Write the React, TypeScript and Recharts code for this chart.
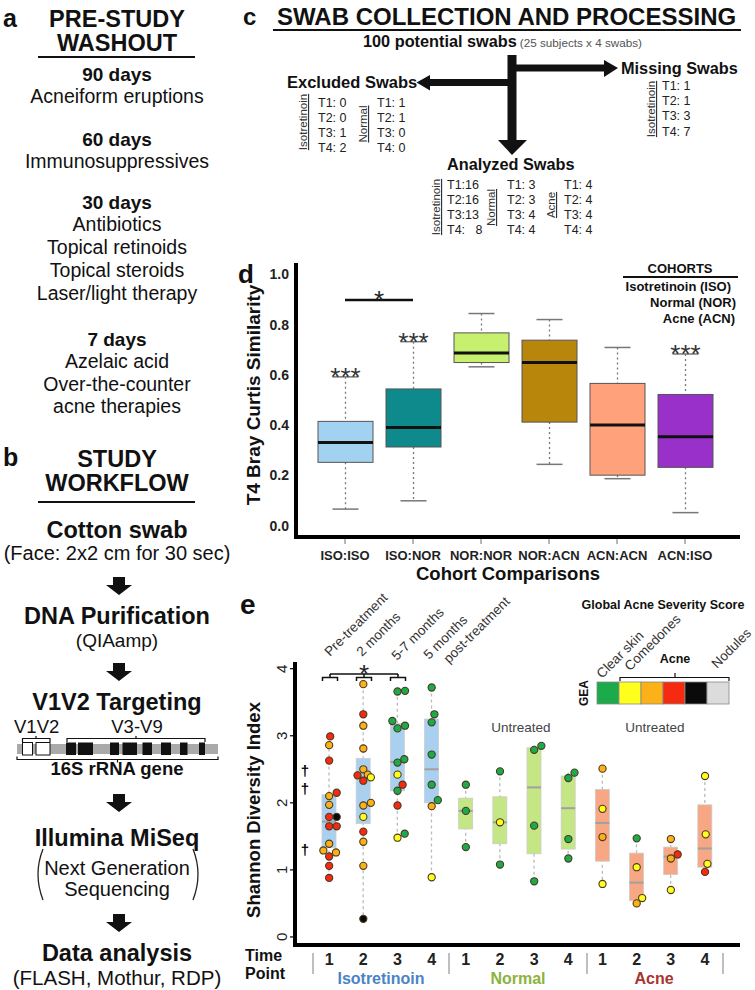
import React from 'react'
import { ComposedChart, Bar, Scatter, XAxis, YAxis, ReferenceLine } from 'recharts'

const FONT = '"Liberation Sans", Arial, Helvetica, sans-serif'

// panel c: swab counts per time point
const swabTimes = ['T1', 'T2', 'T3', 'T4']
const excludedIso = [0, 0, 1, 2]
const excludedNor = [1, 1, 0, 0]
const missingIso = [1, 1, 3, 7]
const analyzedIso = [16, 16, 13, 8]
const analyzedNor = [3, 3, 4, 4]
const analyzedAcn = [4, 4, 4, 4]

// panel d: T4 Bray Curtis similarity by cohort comparison
const cohortPairs = ['ISO:ISO', 'ISO:NOR', 'NOR:NOR', 'NOR:ACN', 'ACN:ACN', 'ACN:ISO']
const brayMin = [0.066, 0.099, 0.632, 0.244, 0.187, 0.052]
const brayQ1 = [0.252, 0.313, 0.649, 0.412, 0.201, 0.232]
const brayMedian = [0.331, 0.391, 0.687, 0.649, 0.401, 0.354]
const brayQ3 = [0.415, 0.544, 0.767, 0.738, 0.566, 0.522]
const brayMax = [0.592, 0.732, 0.844, 0.82, 0.709, 0.683]
const braySig = ['***', '***', '', '', '', '***']
const brayTicks = [0, 0.2, 0.4, 0.6, 0.8, 1.0]
const pairSigFrom = 'ISO:ISO'
const pairSigTo = 'ISO:NOR'
const pairSigLevel = 0.898
const pairColors = ['#a3d1f0', '#0e8a8c', '#c6f06e', '#b8860b', '#ffa27c', '#9a30ca']

// panel e: Shannon diversity per cohort and time point
const cohorts = ['Isotretinoin', 'Normal', 'Acne']
const timePoints = [1, 2, 3, 4]
const shannonTicks = [0, 1, 2, 3, 4]
const shannonMin = [0.88, 0.27, 1.48, 0.89, 1.34, 1.08, 0.83, 1.17, 0.79, 0.5, 0.7, 0.97]
const shannonQ1 = [1.33, 1.69, 2.18, 2.0, 1.61, 1.39, 1.24, 1.31, 1.13, 0.54, 0.93, 1.04]
const shannonMedian = [1.72, 2.38, 2.61, 2.5, 1.88, 1.71, 2.23, 1.92, 1.7, 0.81, 1.2, 1.32]
const shannonQ3 = [2.12, 2.66, 3.18, 3.25, 2.07, 2.09, 2.82, 2.4, 2.2, 1.25, 1.34, 1.97]
const shannonMax = [2.99, 3.77, 3.67, 3.72, 2.27, 2.47, 2.85, 2.45, 2.51, 1.47, 1.46, 2.4]

// swabs: [shannon, GEA score (0 clear .. 4 severe), jitter]
const isoT1 = [[2.99, 3, 0.03], [2.86, 2, 0], [2.63, 3, 0], [2.1, 2, 0], [2.15, 3, 0.22], [1.97, 2, 0], [1.79, 3, 0], [1.79, 4, 0.22], [1.65, 3, 0], [1.65, 3, 0.22], [1.39, 2, 0], [1.29, 2, -0.17], [1.26, 2, 0.2], [1.2, 3, 0], [1.06, 3, 0], [0.88, 3, 0]]
const isoT2 = [[3.77, 2, 0], [3.32, 3, 0], [3.15, 2, 0], [2.81, 2, 0], [2.5, 2, 0], [2.41, 3, -0.17], [2.42, 2, 0.13], [2.38, 1, 0.22], [2.33, 3, 0], [2.0, 2, 0.22], [1.96, 2, 0], [1.79, 1, 0], [1.57, 3, 0], [1.42, 2, 0], [1.06, 2, 0], [0.27, 4, 0]]
const isoT3 = [[3.66, 0, 0], [3.67, 0, 0.22], [3.22, 0, -0.15], [3.11, 0, 0], [3.15, 0, 0.22], [2.6, 0, 0], [2.65, 0, 0.2], [2.42, 1, 0], [2.27, 3, 0.15], [2.18, 0, 0], [1.96, 3, 0], [1.48, 1, 0], [1.54, 0, 0.21]]
const isoT4 = [[3.72, 0, 0], [3.32, 0, 0.08], [3.2, 0, 0], [2.72, 0, 0], [2.27, 0, 0], [2.04, 0, 0.18], [1.95, 2, 0], [0.89, 1, 0]]
const norT1 = [[2.27, 0, 0], [1.88, 0, 0], [1.34, 0, 0]]
const norT2 = [[2.47, 0, 0], [1.71, 1, 0], [1.08, 0, 0]]
const norT3 = [[2.79, 0, 0], [2.85, 0, 0.21], [1.66, 0, 0], [0.83, 0, 0]]
const norT4 = [[2.37, 0, 0], [2.45, 0, 0.18], [1.46, 0, 0], [1.17, 0, 0]]
const acnT1 = [[2.51, 2, 0], [1.91, 1, 0], [1.49, 2, 0], [0.79, 1, 0]]
const acnT2 = [[1.47, 0, 0], [1.04, 1, 0], [0.58, 1, 0.16], [0.5, 2, 0]]
const acnT3 = [[1.46, 2, 0], [1.17, 2, 0], [1.23, 3, 0.2], [0.7, 1, 0]]
const acnT4 = [[2.4, 1, 0], [1.53, 1, 0.02], [1.09, 1, 0.07], [0.97, 3, 0]]
const swabGroups = [isoT1, isoT2, isoT3, isoT4, norT1, norT2, norT3, norT4, acnT1, acnT2, acnT3, acnT4]

const geaColors = ['#1cab4b', '#ffff1e', '#fbb117', '#f52a10', '#0a0a0a', '#dcdcdc']
const cohortFill = ['#aad0f0', '#c4e684', '#f7a783']
const cohortText = ['#4a84c4', '#8db23f', '#a8342f']

// chart placement on the page
const D = { left: 240, top: 250, width: 510, height: 340, m: { top: 13, right: 12, bottom: 10, left: 16 }, yw: 40, xh: 43 }
const E = { left: 240, top: 590, width: 515, height: 400, m: { top: 72, right: 17, bottom: 15, left: 15 }, yw: 40, xh: 30 }

const brayBoxes = cohortPairs.map((name, i) => ({
  name,
  min: brayMin[i],
  q1: brayQ1[i],
  median: brayMedian[i],
  q3: brayQ3[i],
  max: brayMax[i],
  sig: braySig[i],
  color: pairColors[i],
}))

const shannonBoxes = swabGroups.map((_, i) => ({
  key: `${cohorts[Math.floor(i / 4)]} ${timePoints[i % 4]}`,
  cohort: Math.floor(i / 4),
  min: shannonMin[i],
  q1: shannonQ1[i],
  median: shannonMedian[i],
  q3: shannonQ3[i],
  max: shannonMax[i],
}))

const swabPoints = swabGroups.flatMap((g, i) => g.map(([v, gea, jit]) => ({ x: i + 1 + jit, y: v, gea })))

// box drawn from the bar rect (q1..q3); other stats use the same pixel/unit ratio
const BrayBox = (p: any) => {
  const { x, width, payload } = p
  const y = Math.min(p.y, p.y + p.height)
  const h = Math.abs(p.height)
  const k = h / (payload.q3 - payload.q1)
  const py = (v: number) => y + (payload.q3 - v) * k
  const cx = x + width / 2
  return (
    <g>
      <line x1={cx} x2={cx} y1={py(payload.max)} y2={y} stroke="#777" strokeWidth={1.3} strokeDasharray="2 3" />
      <line x1={cx} x2={cx} y1={y + h} y2={py(payload.min)} stroke="#777" strokeWidth={1.3} strokeDasharray="2 3" />
      <line x1={cx - 13} x2={cx + 13} y1={py(payload.max)} y2={py(payload.max)} stroke="#777" strokeWidth={1.5} />
      <line x1={cx - 13} x2={cx + 13} y1={py(payload.min)} y2={py(payload.min)} stroke="#777" strokeWidth={1.5} />
      <rect x={x} y={y} width={width} height={h} fill={payload.color} stroke="#555" strokeWidth={1} />
      <line x1={x} x2={x + width} y1={py(payload.median)} y2={py(payload.median)} stroke="#111" strokeWidth={3} />
      {payload.sig ? (
        <text x={cx} y={py(payload.max) + 9} textAnchor="middle" fontSize={26} fill="#333">{payload.sig}</text>
      ) : null}
    </g>
  )
}

const ShannonBox = (p: any) => {
  const { x, width, payload } = p
  const y = Math.min(p.y, p.y + p.height)
  const h = Math.abs(p.height)
  const k = h / (payload.q3 - payload.q1)
  const py = (v: number) => y + (payload.q3 - v) * k
  const cx = x + width / 2
  return (
    <g>
      <line x1={cx} x2={cx} y1={py(payload.max)} y2={py(payload.min)} stroke="#bbb" strokeWidth={1.3} strokeDasharray="3 3" />
      <rect x={x} y={y} width={width} height={h} fill={cohortFill[payload.cohort]} stroke="#ccc" strokeWidth={0.8} />
      <line x1={x} x2={x + width} y1={py(payload.median)} y2={py(payload.median)} stroke="#a0a0a0" strokeWidth={2} />
    </g>
  )
}

const SwabDot = (p: any) => (
  <circle cx={p.cx} cy={p.cy} r={3.6} fill={geaColors[p.payload.gea]} stroke="#4a3a22" strokeWidth={1.1} />
)

// bottom tick: short grey tick mark at the axis + bold label
const PairTick = (p: any) => (
  <g>
    <rect x={p.x - 0.6} y={p.y - 12} width={1.2} height={6} fill="#888" />
    <text x={p.x} y={p.y} dy={9.5} textAnchor="middle" fontSize={13} fontWeight="bold" fill="#222">{p.payload.value}</text>
  </g>
)

// left tick: tick mark + label rotated like base R
const RotTick = (p: any) => (
  <g>
    <rect x={p.x + 2.5} y={p.y - 0.6} width={5.5} height={1.2} fill="#000" />
    <text x={p.x} y={p.y} transform={`rotate(-90 ${p.x} ${p.y})`} textAnchor="middle" fontSize={15} fill="#222">
      {p.payload.value}
    </text>
  </g>
)

const SigStar = (p: any) => {
  const vb = p.viewBox || {}
  const x = (vb.x ?? 0) + (vb.width ?? 0) / 2
  return <text x={x} y={(vb.y ?? 0) + 9} textAnchor="middle" fontSize={26} fill="#222">*</text>
}

function BrayChart() {
  return (
    <ComposedChart width={D.width} height={D.height} data={brayBoxes} margin={D.m}>
      <XAxis dataKey="name" type="category" padding={{ left: 15, right: 19 }} height={D.xh} interval={0}
        axisLine={false} tickLine={false} tickSize={6} tickMargin={7} tick={<PairTick />} />
      <YAxis type="number" domain={[-0.045, 1.045]} allowDataOverflow ticks={brayTicks} width={D.yw}
        tickFormatter={(v: number) => v.toFixed(1)}
        axisLine={false} tickLine={false} tickSize={4} tickMargin={3}
        tick={{ fontSize: 14, fontWeight: 'bold', fill: '#222' }} />
      <Bar dataKey={(d: any) => [d.q1, d.q3]} barSize={55} shape={BrayBox} isAnimationActive={false} />
      <ReferenceLine segment={[{ x: pairSigFrom, y: pairSigLevel }, { x: pairSigTo, y: pairSigLevel }]}
        stroke="#111" strokeWidth={2.5} ifOverflow="visible" label={<SigStar />} />
    </ComposedChart>
  )
}

function ShannonChart() {
  return (
    <ComposedChart width={E.width} height={E.height} data={shannonBoxes} margin={E.m}>
      <XAxis xAxisId="cat" dataKey="key" type="category" padding={{ left: 17, right: 16 }} height={E.xh} interval={0}
        axisLine={false} tickLine={false} tickSize={0} tickMargin={9}
        tick={{ fontSize: 16, fontWeight: 'bold', fill: '#222' }}
        tickFormatter={(v: string) => String(v).split(' ')[1]} />
      <XAxis xAxisId="num" dataKey="x" type="number" domain={[0, 12.965]} allowDataOverflow hide />
      <YAxis type="number" domain={[-0.12, 4.1]} allowDataOverflow ticks={shannonTicks} width={E.yw}
        axisLine={false} tickLine={false} tickSize={5} tickMargin={2.5} tick={<RotTick />} />
      <Bar xAxisId="cat" dataKey={(d: any) => [d.q1, d.q3]} barSize={14} shape={ShannonBox} isAnimationActive={false} />
      <Scatter xAxisId="num" data={swabPoints} dataKey="y" shape={SwabDot} isAnimationActive={false} />
    </ComposedChart>
  )
}

// base-R style "L" frame along the plot's left and bottom edges (HTML borders on top of everything)
const FrameBox = ({ c }: { c: typeof D }) => {
  const t = 4
  const x0 = c.left + c.m.left + c.yw
  const x1 = c.left + c.width - c.m.right
  const y0 = c.top + c.m.top
  const y1 = c.top + c.height - c.m.bottom - c.xh
  return (
    <div style={{
      position: 'absolute', left: x0 - t / 2, top: y0, width: x1 - x0, height: y1 - y0 - t / 2,
      borderLeft: `${t}px solid #000`, borderBottom: `${t}px solid #000`, pointerEvents: 'none',
    }} />
  )
}

const DownArrow = ({ cx, y }: { cx: number; y: number }) => (
  <polygon
    points={`${cx - 6},${y} ${cx + 6},${y} ${cx + 6},${y + 8} ${cx + 13},${y + 8} ${cx},${y + 18} ${cx - 13},${y + 8} ${cx - 6},${y + 8}`}
    fill="#111" />
)

const VLabel = ({ x, y, children, size = 11.5 }: any) => (
  <text transform={`translate(${x},${y}) rotate(-90)`} textAnchor="middle" fontSize={size} fill="#333" textDecoration="underline">
    {children}
  </text>
)

const Slant = ({ x, y, children, size = 13.5, fill = '#333' }: any) => (
  <text transform={`translate(${x},${y}) rotate(-45)`} fontSize={size} fill={fill}>{children}</text>
)

function PanelAB() {
  const head = (t: string, y: number) => <text x={117} y={y} fontSize={23.5} fontWeight="bold" textAnchor="middle">{t}</text>
  const sub = (t: string, y: number) => <text x={117} y={y} fontSize={19} fontWeight="bold" textAnchor="middle">{t}</text>
  const body = (t: string, y: number, s = 19.5) => <text x={117} y={y} fontSize={s} textAnchor="middle">{t}</text>
  const blocks = [[66, 76], [78, 93], [110, 119], [122.5, 137], [142.5, 152], [161, 171], [180, 187.5], [199, 205]]
  return (
    <g fill="#111">
      <text x={3} y={27} fontSize={25} fontWeight="bold">a</text>
      {head('PRE-STUDY', 26.5)}
      {head('WASHOUT', 50.5)}
      <line x1={38} x2={195} y1={57} y2={57} stroke="#111" strokeWidth={2} />
      {sub('90 days', 81)}
      {body('Acneiform eruptions', 103)}
      {sub('60 days', 146)}
      {body('Immunosuppressives', 168)}
      {sub('30 days', 209)}
      {body('Antibiotics', 231)}
      {body('Topical retinoids', 254)}
      {body('Topical steroids', 277)}
      {body('Laser/light therapy', 300)}
      {sub('7 days', 346)}
      {body('Azelaic acid', 368)}
      {body('Over-the-counter', 391)}
      {body('acne therapies', 413)}

      <text x={3} y={466} fontSize={25} fontWeight="bold">b</text>
      {head('STUDY', 466.5)}
      {head('WORKFLOW', 490.5)}
      <line x1={38} x2={195} y1={502} y2={502} stroke="#111" strokeWidth={2} />
      {head('Cotton swab', 538)}
      {body('(Face: 2x2 cm for 30 sec)', 560, 20)}
      <DownArrow cx={119} y={577} />
      {head('DNA Purification', 624)}
      {body('(QIAamp)', 646.5, 19)}
      <DownArrow cx={119} y={663} />
      {head('V1V2 Targeting', 710)}
      <text x={14} y={733} fontSize={18.5}>V1V2</text>
      <text x={137} y={733} fontSize={18.5} textAnchor="middle">V3-V9</text>
      <path d="M22.5 742 L22.5 738.5 L50 738.5 L50 742 M36 738.5 L36 736" stroke="#111" strokeWidth={1.2} fill="none" />
      <path d="M67 742 L67 738.5 L205 738.5 L205 742 M136 738.5 L136 736" stroke="#111" strokeWidth={1.2} fill="none" />
      <rect x={17} y={744} width={201} height={10} fill="#aaa" />
      <rect x={22.5} y={742.5} width={10} height={12.5} fill="#fff" stroke="#111" strokeWidth={1} />
      <rect x={36} y={742.5} width={14} height={12.5} fill="#fff" stroke="#111" strokeWidth={1} />
      {blocks.map(([a, b]) => <rect key={a} x={a} y={742.5} width={b - a} height={12.5} fill="#111" />)}
      <path d="M17 756.5 L17 759.5 L218 759.5 L218 756.5 M117.5 759.5 L117.5 762.5" stroke="#111" strokeWidth={1.2} fill="none" />
      <text x={117} y={775} fontSize={18.5} fontWeight="bold" textAnchor="middle">16S rRNA gene</text>
      <DownArrow cx={119} y={794} />
      {head('Illumina MiSeq', 846)}
      {body('Next Generation', 875, 20)}
      {body('Sequencing', 896, 20)}
      <path d="M43 849 Q33 874 43 900" stroke="#222" strokeWidth={1.3} fill="none" />
      <path d="M193 849 Q203 874 193 900" stroke="#222" strokeWidth={1.3} fill="none" />
      <DownArrow cx={119} y={914} />
      {head('Data analysis', 961)}
      {body('(FLASH, Mothur, RDP)', 985, 20.5)}
    </g>
  )
}

function PanelC() {
  const item = (x: number, y: number, t: string) => (
    <text key={`${x}-${y}`} x={x} y={y} fontSize={12.5} fill="#222" style={{ whiteSpace: 'pre' }}>{t}</text>
  )
  return (
    <g fill="#111">
      <text x={243} y={25} fontSize={24} fontWeight="bold">c</text>
      <text x={277} y={25} fontSize={24} fontWeight="bold">SWAB COLLECTION AND PROCESSING</text>
      <line x1={273} x2={741} y1={30} y2={30} stroke="#111" strokeWidth={2} />
      <text x={363} y={47} fontSize={16.3} fontWeight="bold">
        100 potential swabs<tspan fontSize={11.7} fontWeight="normal" fill="#555" dx={3}>(25 subjects x 4 swabs)</tspan>
      </text>
      {/* arrows */}
      <rect x={507.5} y={55} width={9} height={86} fill="#111" />
      <polygon points="498,140 527,140 512,155" fill="#111" />
      <rect x={512} y={64.5} width={94} height={7} fill="#111" />
      <polygon points="604,60 618,68 604,77" fill="#111" />
      <rect x={428} y={79} width={84} height={7} fill="#111" />
      <polygon points="430,75 416.5,82.5 430,90.5" fill="#111" />

      <text x={621} y={73.5} fontSize={16.3} fontWeight="bold">Missing Swabs</text>
      <VLabel x={655} y={109}>Isotretinoin</VLabel>
      {swabTimes.map((t, i) => item(662, 89.5 + 15.4 * i, `${t}: ${missingIso[i]}`))}

      <text x={287} y={88} fontSize={16.5} fontWeight="bold">Excluded Swabs</text>
      <VLabel x={307} y={122}>Isotretinoin</VLabel>
      {swabTimes.map((t, i) => item(318, 107 + 15 * i, `${t}: ${excludedIso[i]}`))}
      <VLabel x={367} y={124}>Normal</VLabel>
      {swabTimes.map((t, i) => item(377, 107 + 15 * i, `${t}: ${excludedNor[i]}`))}

      <text x={447} y={169.5} fontSize={16.3} fontWeight="bold">Analyzed Swabs</text>
      <VLabel x={440} y={207}>Isotretinoin</VLabel>
      {swabTimes.map((t, i) => item(447, 188.5 + 15 * i, `${t}:${analyzedIso[i] < 10 ? '   ' : ''}${analyzedIso[i]}`))}
      <VLabel x={495} y={207.5}>Normal</VLabel>
      {swabTimes.map((t, i) => item(507, 188.5 + 15 * i, `${t}: ${analyzedNor[i]}`))}
      <VLabel x={555} y={205}>Acne</VLabel>
      {swabTimes.map((t, i) => item(564, 188.5 + 15 * i, `${t}: ${analyzedAcn[i]}`))}
    </g>
  )
}

function PanelDNotes() {
  return (
    <g fill="#111">
      <text x={238} y={283} fontSize={26} fontWeight="bold">d</text>
      <text transform="translate(260,395) rotate(-90)" textAnchor="middle" fontSize={19} fontWeight="bold">
        T4 Bray Curtis Similarity
      </text>
      <text x={508} y={579.5} textAnchor="middle" fontSize={18.5} fontWeight="bold">Cohort Comparisons</text>
      <text x={680} y={272.5} textAnchor="middle" fontSize={13} fontWeight="bold">COHORTS</text>
      <line x1={623} x2={738} y1={277} y2={277} stroke="#111" strokeWidth={2} />
      <text x={731} y={290.5} textAnchor="end" fontSize={13} fontWeight="bold">Isotretinoin (ISO)</text>
      <text x={736} y={306.5} textAnchor="end" fontSize={13} fontWeight="bold">Normal (NOR)</text>
      <text x={735} y={322.5} textAnchor="end" fontSize={13} fontWeight="bold">Acne (ACN)</text>
    </g>
  )
}

function PanelENotes() {
  return (
    <g fill="#111">
      <text x={240} y={614} fontSize={28} fontWeight="bold">e</text>
      <text transform="translate(259.5,810) rotate(-90)" textAnchor="middle" fontSize={18.5} fontWeight="bold">
        Shannon Diversity Index
      </text>
      <Slant x={330} y={657}>Pre-treatment</Slant>
      <Slant x={362} y={657}>2 months</Slant>
      <Slant x={397} y={661}>5-7 months</Slant>
      <Slant x={429} y={660}>5 months</Slant>
      <Slant x={449} y={664}>post-treatment</Slant>
      <line x1={330} x2={398} y1={674} y2={674} stroke="#111" strokeWidth={1.5} />
      {[330, 364, 398].map((cx) => (
        <path key={cx} d={`M${cx - 7.5} 681 L${cx - 7.5} 677.5 L${cx + 7.5} 677.5 L${cx + 7.5} 681 M${cx} 677.5 L${cx} 674`}
          stroke="#111" strokeWidth={1.5} fill="none" />
      ))}
      <text x={364} y={683} textAnchor="middle" fontSize={26} fill="#222">*</text>
      <text x={521} y={731.5} textAnchor="middle" fontSize={13.5} fill="#444">Untreated</text>
      <text x={655} y={731.5} textAnchor="middle" fontSize={13.5} fill="#444">Untreated</text>
      <text x={305} y={776} textAnchor="middle" fontSize={15} fontWeight="bold" fill="#000">†</text>
      <text x={305} y={794} textAnchor="middle" fontSize={15} fontWeight="bold" fill="#000">†</text>
      <text x={305} y={854.5} textAnchor="middle" fontSize={15} fontWeight="bold" fill="#000">†</text>

      <text x={663} y={608.5} textAnchor="middle" fontSize={12.5} fontWeight="bold">Global Acne Severity Score</text>
      <Slant x={602} y={679}>Clear skin</Slant>
      <Slant x={630} y={671.5}>Comedones</Slant>
      <Slant x={717} y={669}>Nodules</Slant>
      <text x={675} y={662.5} textAnchor="middle" fontSize={12.5} fontWeight="bold">Acne</text>
      <path d="M620 681 L620 677.5 L729 677.5 L729 681 M675 677.5 L675 673" stroke="#111" strokeWidth={1.2} fill="none" />
      {geaColors.map((c, i) => (
        <rect key={c} x={597 + i * 22} y={682} width={22} height={22} fill={c} stroke="#888" strokeWidth={0.8} />
      ))}
      <text transform="translate(588,693) rotate(-90)" textAnchor="middle" fontSize={12} fontWeight="bold">GEA</text>

      <text x={245} y={961} fontSize={16} fontWeight="bold">Time</text>
      <text x={245} y={979} fontSize={16} fontWeight="bold">Point</text>
      {[313, 449, 587, 723].map((x) => (
        <rect key={x} x={x - 0.75} y={953} width={1.5} height={21} fill="#aaa" />
      ))}
      {cohorts.map((c, i) => (
        <text key={c} x={[381, 518, 654][i]} y={984} textAnchor="middle" fontSize={16} fontWeight="bold" fill={cohortText[i]}>{c}</text>
      ))}
    </g>
  )
}

export default function App() {
  return (
    <div style={{ position: 'absolute', left: 0, top: 0, width: 755, height: 990, background: '#fff', fontFamily: FONT, overflow: 'hidden' }}>
      <div style={{ position: 'absolute', left: D.left, top: D.top }}>
        <BrayChart />
      </div>
      <div style={{ position: 'absolute', left: E.left, top: E.top }}>
        <ShannonChart />
      </div>
      <svg width={755} height={990} fontFamily={FONT} style={{ position: 'absolute', left: 0, top: 0, pointerEvents: 'none' }}>
        <PanelAB />
        <PanelC />
        <PanelDNotes />
        <PanelENotes />
      </svg>
      <FrameBox c={D} />
      <FrameBox c={E} />
    </div>
  )
}
